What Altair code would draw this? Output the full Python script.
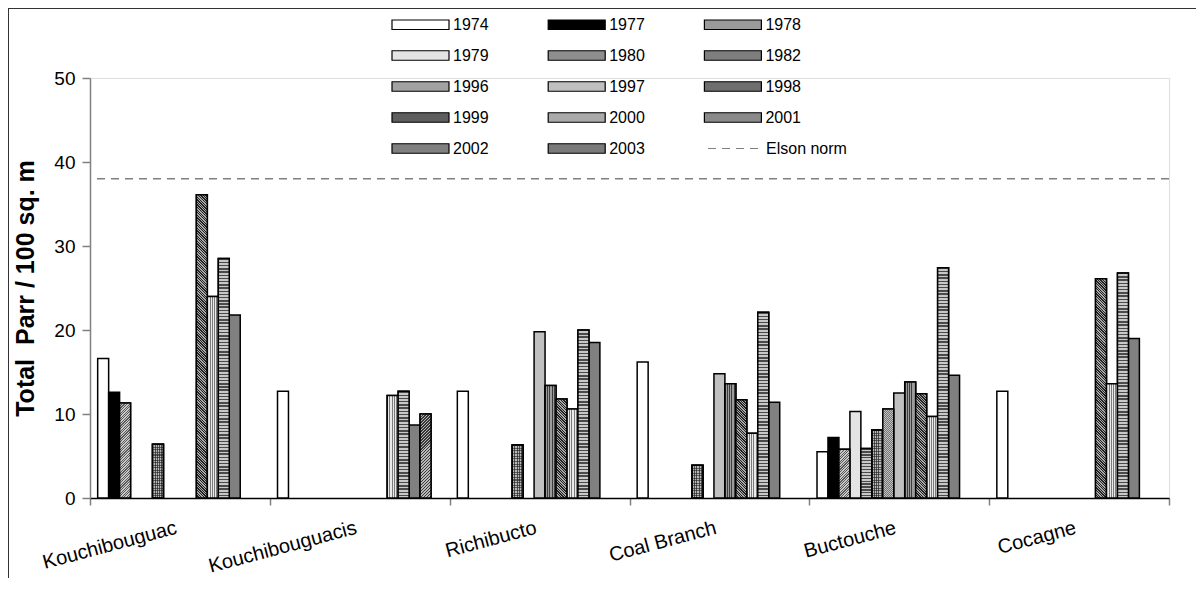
import altair as alt
import pandas as pd

FONT = "Liberation Sans"

rivers = ["Kouchibouguac", "Kouchibouguacis", "Richibucto", "Coal Branch", "Buctouche", "Cocagne"]
years = ["1974", "1977", "1978", "1979", "1980", "1982", "1996",
         "1997", "1998", "1999", "2000", "2001", "2002", "2003"]

# Total parr per 100 sq. m, one value per year (None = no survey)
kouchibouguac = [16.6, 12.6, 11.3, None, None, 6.4, None, None, None, 36.1, 24.0, 28.5, 21.8, None]
kouchibouguacis = [12.7, None, None, None, None, None, None, None, None, None, 12.2, 12.7, 8.7, 10.0]
richibucto = [12.7, None, None, None, None, 6.3, None, 19.8, 13.4, 11.8, 10.6, 20.0, 18.5, None]
coal_branch = [16.2, None, None, None, None, 3.9, None, 14.8, 13.6, 11.7, 7.7, 22.1, 11.4, None]
buctouche = [5.5, 7.2, 5.8, 10.3, 5.9, 8.1, 10.6, 12.5, 13.8, 12.4, 9.7, 27.4, 14.6, None]
cocagne = [12.7, None, None, None, None, None, None, None, None, 26.1, 13.6, 26.8, 19.0, None]

elson_label = ["Elson norm"]
elson_value = [38]

year_fills = ["#ffffff", "#000000", "#9a9a9a", "#e4e4e4", "#8e8e8e", "#7e7e7e", "#a2a2a2",
              "#c0c0c0", "#6e6e6e", "#5e5e5e", "#aaaaaa", "#8a8a8a", "#808080", "#7a7a7a"]

rows = []
for river, vals in zip(rivers, [kouchibouguac, kouchibouguacis, richibucto,
                                coal_branch, buctouche, cocagne]):
    for yr, v in zip(years, vals):
        if v is not None:
            rows.append({"river": river, "year": yr, "density": v})
df = pd.DataFrame(rows)
elson_df = pd.DataFrame({"series": elson_label, "value": elson_value})
one = pd.DataFrame({"k": [0]})

slots = years + ["~"]

# legend lays entries out column by column (5 rows x 3 columns);
# order the domain so that the rows read 1974, 1977, 1978 / 1979, ...
n_rows = 5
legend_order = [years[r * 3 + c] for c in range(3) for r in range(n_rows) if r * 3 + c < len(years)]
legend_fills = [year_fills[years.index(y)] for y in legend_order]

PLOT_W, PLOT_H = 1079, 420
x_enc = alt.X(
    "river:N", sort=rivers,
    scale=alt.Scale(domain=rivers, paddingInner=0, paddingOuter=0),
    axis=alt.Axis(title=None, labelAngle=345, labelAlign="right", labelBaseline="middle",
                  labelFontSize=20, labelFont=FONT, labelColor="black", labelPadding=22,
                  labelOffset=-4,
                  tickBand="extent", ticks=True, tickSize=7, tickColor="#808080", tickWidth=1.5,
                  domainColor="black", domainWidth=1.5),
)
y_enc = alt.Y(
    "density:Q", scale=alt.Scale(domain=[0, 50], nice=False),
    axis=alt.Axis(values=[0, 10, 20, 30, 40, 50], grid=False, domainColor="#808080",
                  domainWidth=1.5, tickColor="#808080", tickWidth=1.5, tickSize=8,
                  labelFontSize=19, labelFont=FONT, labelColor="black", labelPadding=7,
                  title="Total\u00a0 Parr / 100 sq. m", titleFont=FONT, titleFontSize=25,
                  titleFontWeight="bold", titleColor="black", titlePadding=15),
)
OUTER = 0.7
xo_enc = alt.XOffset("year:N", scale=alt.Scale(domain=slots, paddingInner=0, paddingOuter=OUTER))

bars = alt.Chart(df).mark_bar(stroke="black", strokeWidth=1.5).encode(
    x=x_enc,
    xOffset=xo_enc,
    y=y_enc,
    fill=alt.Fill(
        "year:N", scale=alt.Scale(domain=legend_order, range=legend_fills),
        legend=alt.Legend(title=None, orient="none", legendX=322, legendY=-62, columns=3,
                          columnPadding=56.2, rowPadding=14, padding=0,
                          symbolType="M-3.8,-0.633H3.8V0.633H-3.8Z", symbolSize=225,
                          symbolStrokeColor="black", symbolStrokeWidth=1.2, symbolOpacity=1,
                          labelFont=FONT, labelFontSize=16, labelColor="black", labelOffset=24),
    ),
)

# ---- hatch fills (drawn as striped gradients over the plain bars) ----
BAR_W = PLOT_W / len(rivers) / (len(slots) + 2 * OUTER)
PX_PER_UNIT = PLOT_H / 50


def stops_for(c1, c2, n, frac):
    stops = []
    for k in range(n):
        a, b, e = k / n, (k + frac) / n, (k + 1) / n
        stops += [{"offset": a, "color": c1}, {"offset": b, "color": c1},
                  {"offset": b, "color": c2}, {"offset": e, "color": c2}]
    return stops


def hatch(kind, c1, c2, period, frac, h):
    w = BAR_W
    if kind == "vert":
        n = max(2, round(w / period))
        return {"gradient": "linear", "stops": stops_for(c1, c2, n, frac), "x1": 0, "y1": 0, "x2": 1, "y2": 0}
    if kind == "horiz":
        n = max(2, round(h / period))
        return {"gradient": "linear", "stops": stops_for(c1, c2, n, frac), "x1": 0, "y1": 0, "x2": 0, "y2": 1}
    r = h / w
    a = (1 + r) / (1 + r * r)
    n = max(2, round((w + h) / period))
    if kind == "up":      # lines running  /
        return {"gradient": "linear", "stops": stops_for(c1, c2, n, frac), "x1": 0, "y1": 0, "x2": a, "y2": a * r}
    return {"gradient": "linear", "stops": stops_for(c1, c2, n, frac), "x1": 0, "y1": 1, "x2": a, "y2": 1 - a * r}


hatch_styles = {
    "1978": [("up", "#5a5a5a", "#c8c8c8", 2.6, 0.45)],
    "1980": [("horiz", "#4a4a4a", "#c8c8c8", 3.0, 0.45)],
    "1982": [("vert", "#4e4e4e", "#b8b8b8", 2.2, 0.45),
             ("horiz", "rgba(30,30,30,0.6)", "rgba(0,0,0,0)", 2.6, 0.4)],
    "1996": [("up", "#767676", "#c0c0c0", 2.0, 0.5)],
    "1998": [("vert", "#3c3c3c", "#9c9c9c", 2.2, 0.45)],
    "1999": [("down", "#222222", "#a8a8a8", 2.6, 0.5)],
    "2000": [("vert", "#7a7a7a", "#eaeaea", 2.2, 0.45)],
    "2001": [("horiz", "#4a4a4a", "#c8c8c8", 3.2, 0.45)],
    "2003": [("up", "#383838", "#b8b8b8", 3.0, 0.45)],
}

pattern_layers = []
for rec in df[df["year"].isin(list(hatch_styles))].itertuples():
    h = rec.density * PX_PER_UNIT
    for kind, c1, c2, period, frac in hatch_styles[rec.year]:
        pattern_layers.append(
            alt.Chart(df)
            .transform_filter((alt.datum.year == rec.year) & (alt.datum.river == rec.river))
            .mark_bar(stroke="black", strokeWidth=1.5, fill=hatch(kind, c1, c2, period, frac, h))
            .encode(x=x_enc, xOffset=xo_enc, y=y_enc)
        )

elson = alt.Chart(elson_df).mark_rule(color="#808080", strokeWidth=1.5).encode(
    y=alt.Y("value:Q"),
    strokeDash=alt.StrokeDash(
        "series:N", scale=alt.Scale(domain=elson_label, range=[[8, 6]]),
        legend=alt.Legend(title=None, orient="none", legendX=636, legendY=62, padding=0,
                          symbolType="M-3.53,0H3.53", symbolSize=225,
                          symbolStrokeColor="#808080", symbolStrokeWidth=1.2,
                          labelFont=FONT, labelFontSize=16, labelColor="black", labelOffset=23),
    ),
)

frame_left = alt.Chart(one).mark_rule(color="#333333", strokeWidth=2).encode(
    x=alt.value(-82), y=alt.value(-70), y2=alt.value(520))
frame_top = alt.Chart(one).mark_rule(color="#333333", strokeWidth=2).encode(
    x=alt.value(-82), x2=alt.value(1110), y=alt.value(-70))

chart = alt.layer(bars, *pattern_layers, elson, frame_left, frame_top).properties(
    width=PLOT_W, height=PLOT_H,
    autosize=alt.AutoSizeParams(type="none"),
    padding={"left": 82, "top": 70, "right": 27, "bottom": 80},
).configure_view(strokeWidth=0).configure(background="white")

chart.save("out.html", embed_options={"renderer": "svg", "actions": False})
